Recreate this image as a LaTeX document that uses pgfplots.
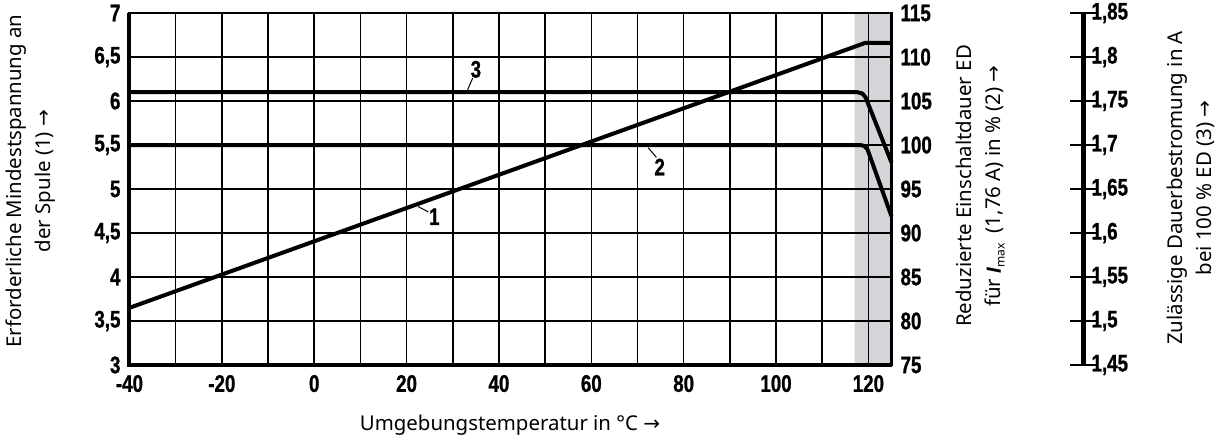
\documentclass[border=0pt]{standalone}
\usepackage{fontspec}
\usepackage{pgfplots}
\pgfplotsset{compat=1.18}
\setmainfont{Noto Sans}
\newfontfamily\tickfont[FakeStretch=0.78, BoldFeatures={FakeBold=1}]{Liberation Sans}
\newfontfamily\lib{Liberation Sans}
\newfontfamily\arr{DejaVu Sans}
\newcommand{\tf}{\tickfont\bfseries\fontsize{12}{13}\selectfont}
\newcommand{\ra}{{\arr\fontsize{10}{10}\selectfont →}}
\definecolor{shade}{HTML}{D4D5D8}
\begin{document}
\begin{tikzpicture}
\path[use as bounding box] (-64.75pt,-40pt) rectangle (542.75pt,182.5pt);
% main axis
\begin{axis}[
  at={(0,0)}, anchor=south west,
  scale only axis, width=381pt, height=176pt,
  xmin=-40, xmax=125, ymin=3, ymax=7,
  xtick={-40,-20,...,120},
  minor xtick={-30,-10,...,110},
  ytick={3,3.5,...,7},
  grid=both,
  major grid style={black, line width=0.8pt},
  minor grid style={black, line width=0.8pt},
  major tick length=0pt, minor tick length=0pt,
  axis line style={black, line width=1.2pt},
  axis on top,
  /pgf/number format/assume math mode=true,
  ticklabel style={font=\tf},
  yticklabel style={xshift=-1pt, /pgf/number format/.cd, fixed, use comma, precision=2},
  xticklabel style={yshift=-1.5pt},
  clip=false,
]
\addplot[fill=shade, draw=none] coordinates {(117,3) (125,3) (125,7) (117,7)} \closedcycle;
% curve 1
\addplot[black, line width=2pt, line join=round] coordinates {
 (-40,3.65) (119.3,6.66) (125,6.66)};
% curve 3
\addplot[black, line width=2pt, line join=round] coordinates {
 (-40,6.1) (117.6,6.1) (118.7,6.085) (119.4,6.04) (125,5.30)};
% curve 2
\addplot[black, line width=2pt, line join=round] coordinates {
 (-40,5.5) (118.2,5.5) (119.1,5.49) (119.8,5.45) (125,4.69)};
% thick left and bottom borders
\draw[line width=2pt] (rel axis cs:0,1) -- (rel axis cs:0,0) -- (rel axis cs:1,0);
% labels
\draw[line width=0.5pt] (axis cs:22.5,4.80) -- (axis cs:24.7,4.74);
\node[font=\tf] at (axis cs:26.0,4.685) {1};
\draw[line width=0.5pt] (axis cs:33.2,6.125) -- (axis cs:34.3,6.26);
\node[font=\tf] at (axis cs:35.0,6.36) {3};
\draw[line width=0.5pt] (axis cs:72.3,5.47) -- (axis cs:74.1,5.36);
\node[font=\tf] at (axis cs:74.8,5.25) {2};
\end{axis}
% right axis 1
\begin{axis}[
  at={(0,0)}, anchor=south west,
  scale only axis, width=381pt, height=176pt,
  xmin=-40, xmax=125, ymin=75, ymax=115,
  axis x line=none, axis y line*=right,
  axis line style={black, line width=1.5pt},
  ytick={75,80,...,115},
  major tick length=0pt,
  /pgf/number format/assume math mode=true,
  ticklabel style={font=\tf},
  yticklabel style={xshift=1pt},
]
\end{axis}
% right axis 2
\begin{axis}[
  at={(0,0)}, anchor=south west,
  scale only axis, width=476.75pt, height=176pt,
  xmin=0, xmax=1, ymin=1.45, ymax=1.85,
  axis x line=none, axis y line*=right,
  axis line style={black, line width=2.5pt},
  ytick={1.45,1.5,1.55,1.6,1.65,1.7,1.75,1.8,1.85},
  tick align=center, major tick length=13.5pt,
  major tick style={black, line width=1.1pt},
  /pgf/number format/assume math mode=true,
  ticklabel style={font=\tf},
  yticklabel style={xshift=-6pt, /pgf/number format/.cd, fixed, use comma, precision=2},
]
\end{axis}
% axis titles
\begin{scope}[every node/.style={font=\fontsize{10.2}{14.5}\selectfont, align=center}]
\node[rotate=90] at (-49.5pt,92pt) {Erforderliche Mindestspannung an\\der Spule (1) \ra};
\node[rotate=90] at (425.5pt,89.5pt) {Reduzierte Einschaltdauer ED\\für {\lib\bfseries\itshape I}\raisebox{-0.35ex}{\fontsize{6}{7}\selectfont max}\enspace(1,76 A) in \% (2) \ra};
\node[rotate=90] at (530.75pt,88.5pt) {Zulässige Dauerbestromung in A\\bei 100 \% ED (3) \ra};
\node at (190.25pt,-30pt) {Umgebungstemperatur in °C \ra};
\end{scope}
\end{tikzpicture}
\end{document}
